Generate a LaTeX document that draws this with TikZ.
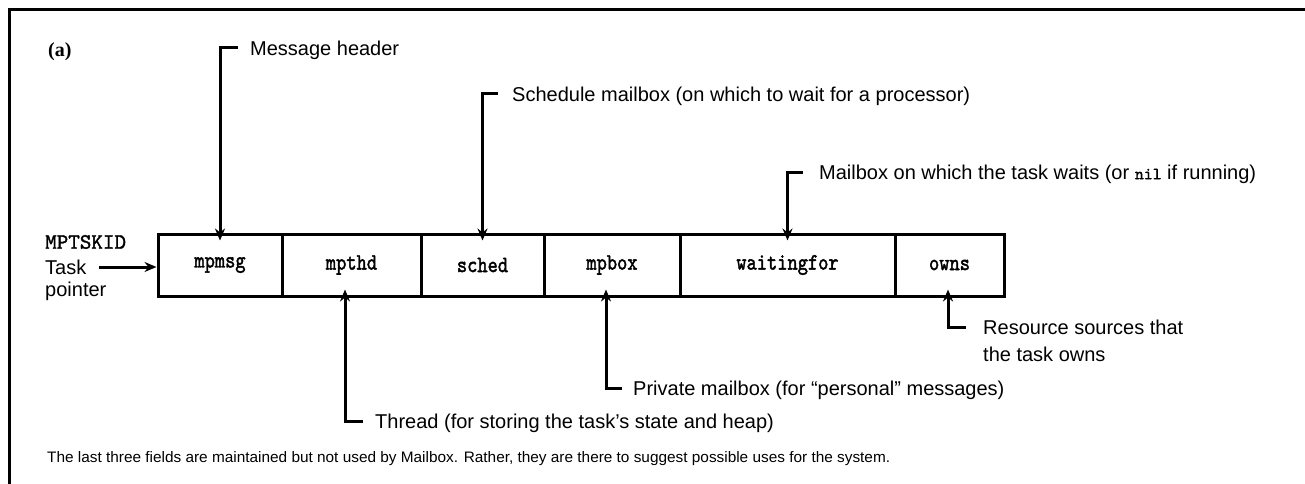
\documentclass[tikz,border=0pt]{standalone}
\usepackage{fontspec}
\setmainfont{Liberation Sans}
\newfontfamily\serifbold{Liberation Serif}
\font\twcell="[lmmono10-regular.otf]:embolden=2" at 19.5pt
\font\twbig="[lmmono10-regular.otf]:embolden=1.5" at 22pt
\font\twnil="[lmmono10-regular.otf]:embolden=1.5" at 17pt
\newcommand\twtext[1]{\scalebox{1}[1.2]{\twcell #1}}
\usetikzlibrary{arrows.meta,calc}
\tikzset{
  cell/.style={draw, line width=3pt, minimum height=62pt, inner sep=0pt},
  arr/.style={line width=3pt, -{Stealth[length=12pt,width=10pt,inset=4pt]}},
  lbl/.style={anchor=west, inner sep=0pt, text height=14.4pt, text depth=0pt,
    font=\fontsize{20}{24}\selectfont},
  frame/.style={line width=3pt},
}
\begin{document}
\begin{tikzpicture}[x=1pt,y=-1pt]
\useasboundingbox (0,0) rectangle (1305,484);
% frame
\draw[frame] (9.5,484) -- (9.5,9.5) -- (1305,9.5);
\node[font=\serifbold\bfseries\fontsize{20}{22}\selectfont, anchor=west, inner sep=0pt] (tag) at (48,52) {(a)};
% cells
\node[cell, minimum width=124pt] (c1) at (220,265) {\twtext{mpmsg}};
\node[cell, minimum width=139pt] (c2) at (351.5,265) {\twtext{mpthd}};
\node[cell, minimum width=123pt] (c3) at (482.5,265) {\twtext{sched}};
\node[cell, minimum width=136pt] (c4) at (612,265) {\twtext{mpbox}};
\node[cell, minimum width=215pt] (c5) at (787.5,265) {\twtext{waitingfor}};
\node[cell, minimum width=109pt] (c6) at (949.5,265) {\twtext{owns}};
% task pointer
\node[font=\twbig, anchor=west, inner sep=0pt] (mpt) at (45,242) {MPTSKID};
\node[lbl] (task) at (45,267) {Task};
\node[lbl] (ptr) at (45,289) {pointer};
\draw[arr] ([xshift=12pt]task.east) -- (task.east -| c1.west);
% upper labels
\node[lbl] (l1) at (250,48) {Message header};
\draw[arr] ([xshift=-12pt]l1.west) -| ([yshift=-8pt]c1.north);
\node[lbl] (l2) at (512,94) {Schedule mailbox (on which to wait for a processor)};
\draw[arr] ([xshift=-14pt]l2.west) -| ([yshift=-8pt]c3.north);
\node[lbl] (l3) at (819,172) {Mailbox on which the task waits (or {\twnil nil} if running)};
\draw[arr] ([xshift=-16pt]l3.west) -| ([yshift=-8pt]c5.north);
% lower labels
\node[lbl] (l4) at (983,327) {Resource sources that};
\node[lbl] (l4b) at (983,354) {the task owns};
\draw[arr] ([xshift=-17pt]l4.west) -| ([xshift=-1.5pt,yshift=8pt]c6.south);
\node[lbl] (l5) at (633,388) {Private mailbox (for “personal” messages)};
\draw[arr] ([xshift=-11pt]l5.west) -| ([xshift=-6pt,yshift=8pt]c4.south);
\node[lbl] (l6) at (375,421) {Thread (for storing the task’s state and heap)};
\draw[arr] ([xshift=-12pt]l6.west) -| ([xshift=-6.5pt,yshift=8pt]c2.south);
% footer
\node[anchor=base west, inner sep=0pt] (foot) at (47,462) {\resizebox{843pt}{11pt}{The last three fields are maintained but not used by Mailbox. Rather, they are there to suggest possible uses for the system.}};
\end{tikzpicture}
\end{document}
